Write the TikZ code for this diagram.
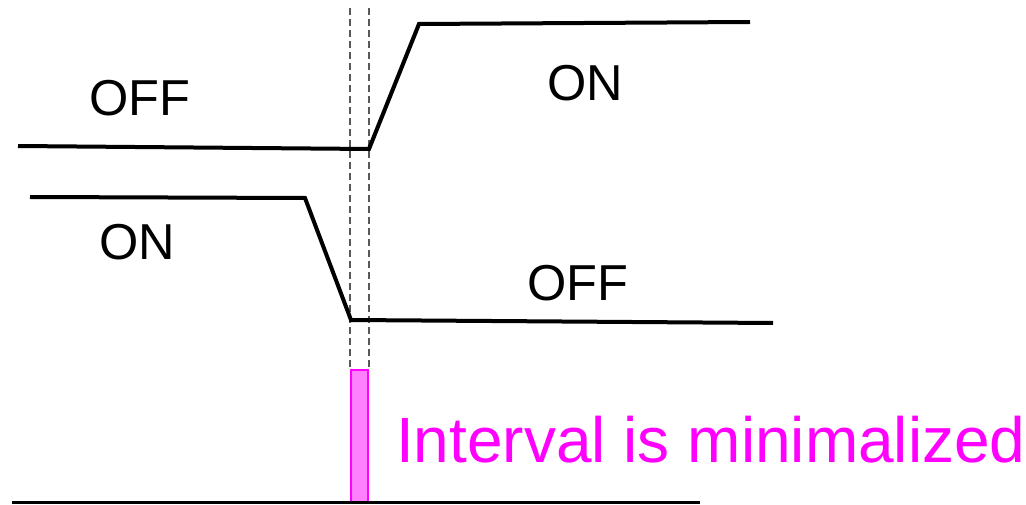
\documentclass[tikz,border=0pt]{standalone}
\usepackage{fontspec}
\setmainfont{Liberation Sans}
\definecolor{hotpink}{RGB}{255,0,255}
\definecolor{barpink}{RGB}{255,128,255}
\begin{document}
\begin{tikzpicture}[x=1pt,y=-1pt,
  signal/.style={line width=4pt,line join=miter,black},
  guide/.style={line width=2pt,dash pattern=on 7pt off 4pt,draw=black!65},
  state/.style={font=\fontsize{50.5}{60}\selectfont,inner sep=0pt,anchor=base},
  note/.style={font=\fontsize{64}{76}\selectfont,inner sep=0pt,anchor=base west,text=hotpink},
  gap/.style={draw=hotpink,line width=1.5pt,fill=barpink}]
\useasboundingbox (0,0) rectangle (1026,505);
% upper signal: OFF -> ON
\coordinate (a0) at (18,146);
\coordinate (a1) at (369,149);
\coordinate (a2) at (419,24);
\coordinate (a3) at (750,22);
% lower signal: ON -> OFF
\coordinate (b0) at (30,197);
\coordinate (b1) at (305,198);
\coordinate (b2) at (351,320);
\coordinate (b3) at (773,323);
% dashed guides
\coordinate (g1t) at (350,8);
\coordinate (g1b) at (350,370);
\coordinate (g2t) at (369,8);
\coordinate (g2b) at (369,370);
% time axis
\coordinate (t0) at (12,502);
\coordinate (t1) at (700,502);
\draw[guide] (g1t) -- (g1b);
\draw[guide] (g2t) -- (g2b);
\draw[signal] (a0) -- (a1) -- (a2) -- (a3);
\draw[signal] (b0) -- (b1) -- (b2) -- (b3);
\draw[gap] (351,370) rectangle (368,502);
\draw[line width=3pt] (t0) -- (t1);
\node[state] (off1) at (140,116) {OFF};
\node[state] (on1) at (585,101) {ON};
\node[state] (on2) at (137,260) {ON};
\node[state] (off2) at (578,301) {OFF};
\node[note] (msg) at (396,462) {Interval is minimalized};
\end{tikzpicture}
\end{document}
